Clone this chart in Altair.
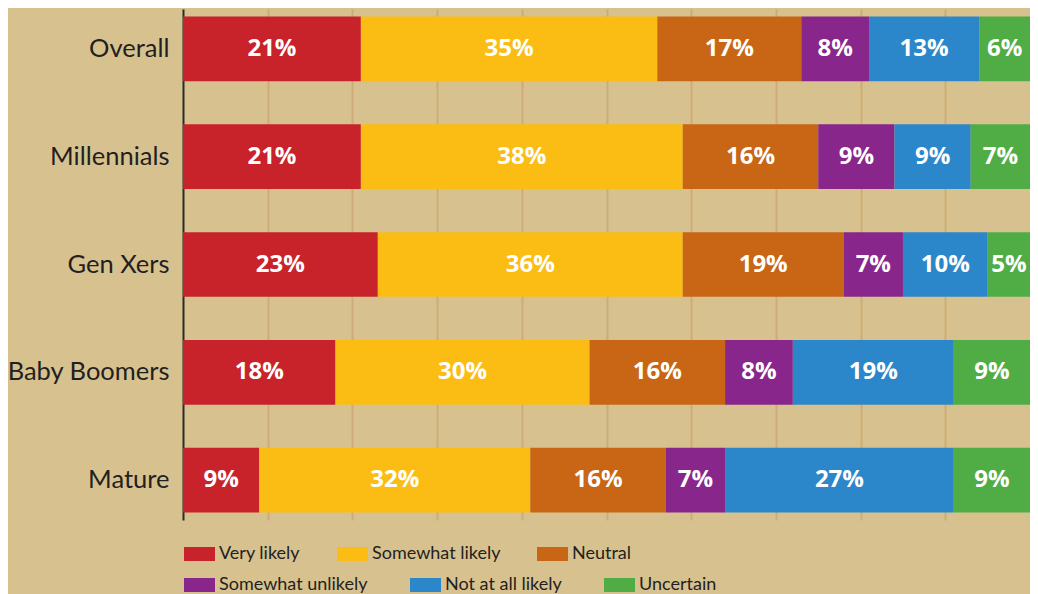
import altair as alt
import pandas as pd

groups = ["Overall", "Millennials", "Gen Xers", "Baby Boomers", "Mature"]
responses = ["Very likely", "Somewhat likely", "Neutral", "Somewhat unlikely", "Not at all likely", "Uncertain"]
colors = ["#c8222b", "#fbbd13", "#c86615", "#88268c", "#2b87c9", "#50ad46"]

very_likely = [21, 21, 23, 18, 9]
somewhat_likely = [35, 38, 36, 30, 32]
neutral = [17, 16, 19, 16, 16]
somewhat_unlikely = [8, 9, 7, 8, 7]
not_at_all = [13, 9, 10, 19, 27]
uncertain = [6, 7, 5, 9, 9]

series = [very_likely, somewhat_likely, neutral, somewhat_unlikely, not_at_all, uncertain]

rows = []
for gi, g in enumerate(groups):
    cum = 0
    for ri, r in enumerate(responses):
        v = series[ri][gi]
        rows.append({"group": g, "response": r, "order": ri, "value": v,
                     "start": cum, "end": cum + v,
                     "mid": cum + v / 2, "label": f"{v}%"})
        cum += v
df = pd.DataFrame(rows)
df_a = df[df["order"] < 3]
df_b = df[df["order"] >= 3]

x_scale = alt.Scale(domain=[0, 100], nice=False)

y = alt.Y("group:N", sort=groups, title=None,
          scale=alt.Scale(paddingInner=0.4, paddingOuter=0.07),
          axis=alt.Axis(labelFont="Lato", labelFontSize=25.5, labelColor="#231f20",
                        labelPadding=14, ticks=False, domainColor="#2b2b2b",
                        domainWidth=2, grid=False))


def legend(ypos, pad):
    return alt.Legend(title=None, orient="none", legendX=-1, legendY=ypos,
                      direction="horizontal", columnPadding=pad,
                      symbolType="M-1,-1L3.43,-1L3.43,1L-1,1Z",
                      symbolSize=196, symbolStrokeWidth=0,
                      symbolOpacity=1, labelOffset=19,
                      labelFont="Lato", labelFontSize=18,
                      labelColor="#231f20")


bars_a = alt.Chart(df_a).mark_bar(clip=True).encode(
    x=alt.X("start:Q", title=None, scale=x_scale,
            axis=alt.Axis(values=[10, 20, 30, 40, 50, 60, 70, 80, 90], labels=False,
                          ticks=False, domain=False, grid=True,
                          gridColor="#cfab79", gridWidth=2)),
    x2="end:Q",
    y=y,
    color=alt.Color("response:N", sort=responses[:3],
                    scale=alt.Scale(domain=responses[:3], range=colors[:3]),
                    legend=legend(536, 34)),
)

bars_b = alt.Chart(df_b).mark_bar(clip=True).encode(
    x=alt.X("start:Q", scale=x_scale),
    x2="end:Q",
    y=alt.Y("group:N", sort=groups),
    fill=alt.Fill("response:N", sort=responses[3:],
                  scale=alt.Scale(domain=responses[3:], range=colors[3:]),
                  legend=legend(567, 40)),
)

text = alt.Chart(df).mark_text(font="Open Sans", fontWeight="bold", fontSize=24,
                               color="white").encode(
    x=alt.X("mid:Q", scale=x_scale),
    y=alt.Y("group:N", sort=groups),
    text="label:N",
)

chart = (bars_a + bars_b + text).resolve_scale(
    color="independent", fill="independent"
).properties(
    width=847, height=511,
    background="#d7c28f",
    autosize=alt.AutoSizeParams(type="none"),
    padding={"left": 175, "top": 1, "right": 0, "bottom": 74},
).configure_view(stroke=None)

chart.save("out.html", embed_options={"renderer": "svg", "actions": False})
